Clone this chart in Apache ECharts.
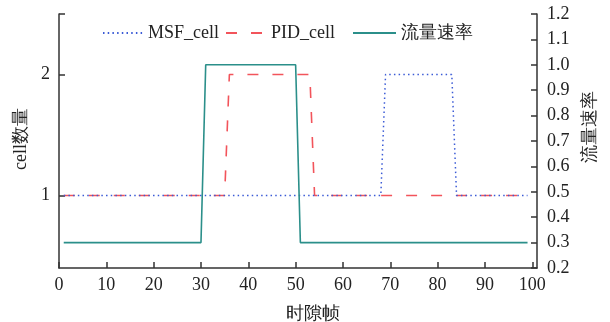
<!DOCTYPE html>
<html>
<head>
<meta charset="utf-8">
<script src="https://cdn.jsdelivr.net/npm/echarts@6/dist/echarts.min.js"></script>
<style>
  html, body { margin: 0; padding: 0; background: #fff; }
  #chart { width: 610px; height: 322px; }
</style>
</head>
<body>
<div id="chart"></div>
<script>
// key points: [时隙帧, value]
var msfPoints  = [[1, 1], [68, 1], [69, 2], [83, 2], [84, 1], [99, 1]];
var pidPoints  = [[1, 1], [35, 1], [36, 2], [53, 2], [54, 1], [99, 1]];
var ratePoints = [[1, 0.3], [30, 0.3], [31, 1.0], [50, 1.0], [51, 0.3], [99, 0.3]];

var xTicks     = [0, 10, 20, 30, 40, 50, 60, 70, 80, 90, 100];
var cellTicks  = [1, 2];
var rateTicks  = [0.2, 0.3, 0.4, 0.5, 0.6, 0.7, 0.8, 0.9, 1.0, 1.1, 1.2];

var font = 'Liberation Serif';
var axisColor = '#333';
var textColor = '#222';

var chart = echarts.init(document.getElementById('chart'));

var legendText = { fontFamily: font, fontSize: 18, color: textColor };
var option = {
    animation: false,
    backgroundColor: '#fff',
    textStyle: { fontFamily: font },
    grid: { left: 59, right: 73, top: 14, bottom: 54, outerBoundsMode: 'none', containLabel: false },
    legend: [
        { left: 97, top: 19, itemWidth: 40, itemHeight: 10, data: ['MSF_cell'],
          itemStyle: { opacity: 0 }, textStyle: legendText },
        { left: 220, top: 19, itemWidth: 40, itemHeight: 10, data: ['PID_cell'],
          itemStyle: { opacity: 0 }, textStyle: legendText },
        { left: 347, top: 19, itemWidth: 43, itemHeight: 10, data: ['流量速率'],
          itemStyle: { opacity: 0 }, textStyle: legendText }
    ],
    xAxis: {
        type: 'value',
        min: 0,
        max: 101,
        name: '时隙帧',
        nameLocation: 'middle',
        nameGap: 37,
        nameTextStyle: { fontFamily: font, fontSize: 18, color: textColor, padding: [0, 0, 0, 30] },
        splitLine: { show: false },
        axisLine: { lineStyle: { color: axisColor, width: 1.5 } },
        axisTick: { inside: true, length: 6, customValues: xTicks, lineStyle: { color: axisColor, width: 1.5 } },
        axisLabel: { customValues: xTicks, margin: 8, fontFamily: font, fontSize: 18, color: textColor }
    },
    yAxis: [
        {
            type: 'value',
            position: 'left',
            min: 0.4,
            max: 2.5,
            name: 'cell数量',
            nameLocation: 'middle',
            nameGap: 22,
            nameTextStyle: { fontFamily: font, fontSize: 18, color: textColor, padding: [0, 0, 0, 4] },
            splitLine: { show: false },
            axisLine: { show: true, lineStyle: { color: axisColor, width: 1.5 } },
            axisTick: { show: true, inside: true, length: 6, customValues: [1, 2, 2.5], lineStyle: { color: axisColor, width: 1.5 } },
            axisLabel: { customValues: cellTicks, margin: 9, fontFamily: font, fontSize: 18, color: textColor }
        },
        {
            type: 'value',
            position: 'right',
            min: 0.2,
            max: 1.2,
            name: '流量速率',
            nameLocation: 'middle',
            nameGap: 44,
            nameRotate: 90,
            nameTextStyle: { fontFamily: font, fontSize: 18, color: textColor, padding: [0, 0, 0, 28] },
            splitLine: { show: false },
            axisLine: { show: true, lineStyle: { color: axisColor, width: 1.5 } },
            axisTick: { show: true, inside: true, length: 6, customValues: rateTicks, lineStyle: { color: axisColor, width: 1.5 } },
            axisLabel: {
                customValues: rateTicks, margin: 10, fontFamily: font, fontSize: 18, color: textColor,
                formatter: function (v) { return v.toFixed(1); }
            }
        }
    ],
    series: [
        {
            name: 'PID_cell',
            type: 'line',
            yAxisIndex: 0,
            symbol: 'none',
            data: pidPoints,
            lineStyle: { color: '#f2545b', width: 1.6, type: [11, 14] },
            itemStyle: { color: '#f2545b' }
        },
        {
            name: 'MSF_cell',
            type: 'line',
            yAxisIndex: 0,
            symbol: 'none',
            data: msfPoints,
            lineStyle: { color: '#3b5bd6', width: 1.5, type: [1.5, 3.2] },
            itemStyle: { color: '#3b5bd6' }
        },
        {
            name: '流量速率',
            type: 'line',
            yAxisIndex: 1,
            symbol: 'none',
            data: ratePoints,
            lineStyle: { color: '#2b8f8a', width: 1.6 },
            itemStyle: { color: '#2b8f8a' }
        }
    ]
};

chart.setOption(option);
</script>
</body>
</html>
